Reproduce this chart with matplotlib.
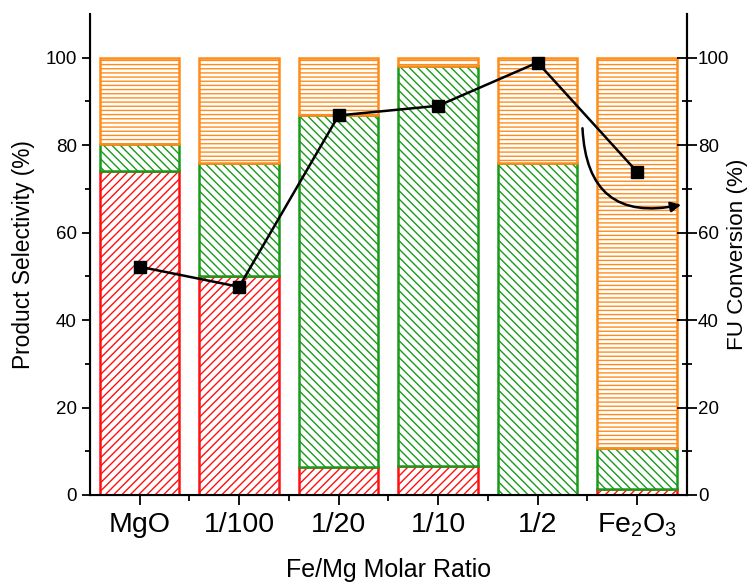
import numpy as np
import matplotlib
matplotlib.use('Agg')
import matplotlib.pyplot as plt

plt.rcParams['font.family'] = ['Liberation Sans', 'DejaVu Sans']
plt.rcParams['hatch.linewidth'] = 1.0
plt.rcParams['mathtext.default'] = 'regular'

# Дані
categories = ['MgO', '1/100', '1/20', '1/10', '1/2', 'Fe$_2$O$_3$']
red_sel = [74.0, 50.0, 6.5, 6.7, 0.0, 1.4]
green_sel = [6.3, 26.0, 80.5, 91.3, 76.0, 9.3]
orange_sel = [19.7, 24.0, 13.0, 2.0, 24.0, 89.3]
conversion = [52.2, 47.6, 86.8, 89.0, 98.9, 73.9]

x = np.arange(len(categories))
red_c, green_c, orange_c = '#ff1010', '#1a9a1a', '#ff8c1a'

fig = plt.figure(figsize=(7.49, 5.82), dpi=100)
ax = fig.add_axes([0.12, 0.1495, 0.797, 0.8265])

bottom = np.zeros(len(x))
for vals, col, h in [(red_sel, red_c, '////'),
                     (green_sel, green_c, '\\\\\\\\'),
                     (orange_sel, orange_c, '----')]:
    ax.bar(x, vals, 0.8, bottom=bottom, color='white', edgecolor=col,
           hatch=h, linewidth=1.8)
    bottom += np.array(vals)

ax.set_xlim(-0.5, 5.5)
ax.set_ylim(0, 110)
ax.set_xticks(x)
ax.set_xticklabels(categories, fontsize=20.5)
ax.set_xticks(x[:-1] + 0.5, minor=True)
ax.set_yticks(np.arange(0, 101, 20))
ax.set_yticks(np.arange(10, 101, 20), minor=True)
ax.tick_params(axis='y', labelsize=13.5, length=6, width=1.3)
ax.tick_params(axis='y', which='minor', length=3.5, width=1.3)
ax.tick_params(axis='x', length=7, width=1.3, pad=5)
ax.tick_params(axis='x', which='minor', length=4, width=1.3)
ax.set_ylabel('Product Selectivity (%)', fontsize=16.4)
ax.yaxis.set_label_coords(-0.092, 0.5)
ax.set_xlabel('Fe/Mg Molar Ratio', fontsize=18)
ax.xaxis.set_label_coords(0.5, -0.131)
for s in ['left', 'bottom', 'right']:
    ax.spines[s].set_linewidth(1.5)
ax.spines['top'].set_visible(False)

ax2 = ax.twinx()
ax2.plot(x, conversion, color='black', marker='s', markersize=8, linewidth=1.8)
ax2.set_ylim(0, 110)
ax2.set_yticks(np.arange(0, 101, 20))
ax2.set_yticks(np.arange(10, 101, 20), minor=True)
ax2.tick_params(axis='y', direction='inout', labelsize=13.5, length=14, width=1.3, pad=1)
ax2.tick_params(axis='y', which='minor', direction='inout', length=7, width=1.3)
ax2.set_ylabel('FU Conversion (%)', fontsize=16.2)
ax2.yaxis.set_label_coords(1.068, 0.5)
ax2.spines['top'].set_visible(False)
ax2.spines['right'].set_linewidth(1.5)

ax2.annotate('', xy=(5.47, 66.5), xytext=(4.45, 84.5),
             arrowprops=dict(arrowstyle='-|>', color='black', lw=1.8,
                             connectionstyle='arc3,rad=0.6', mutation_scale=15))

fig.savefig('out.png', dpi=100)
